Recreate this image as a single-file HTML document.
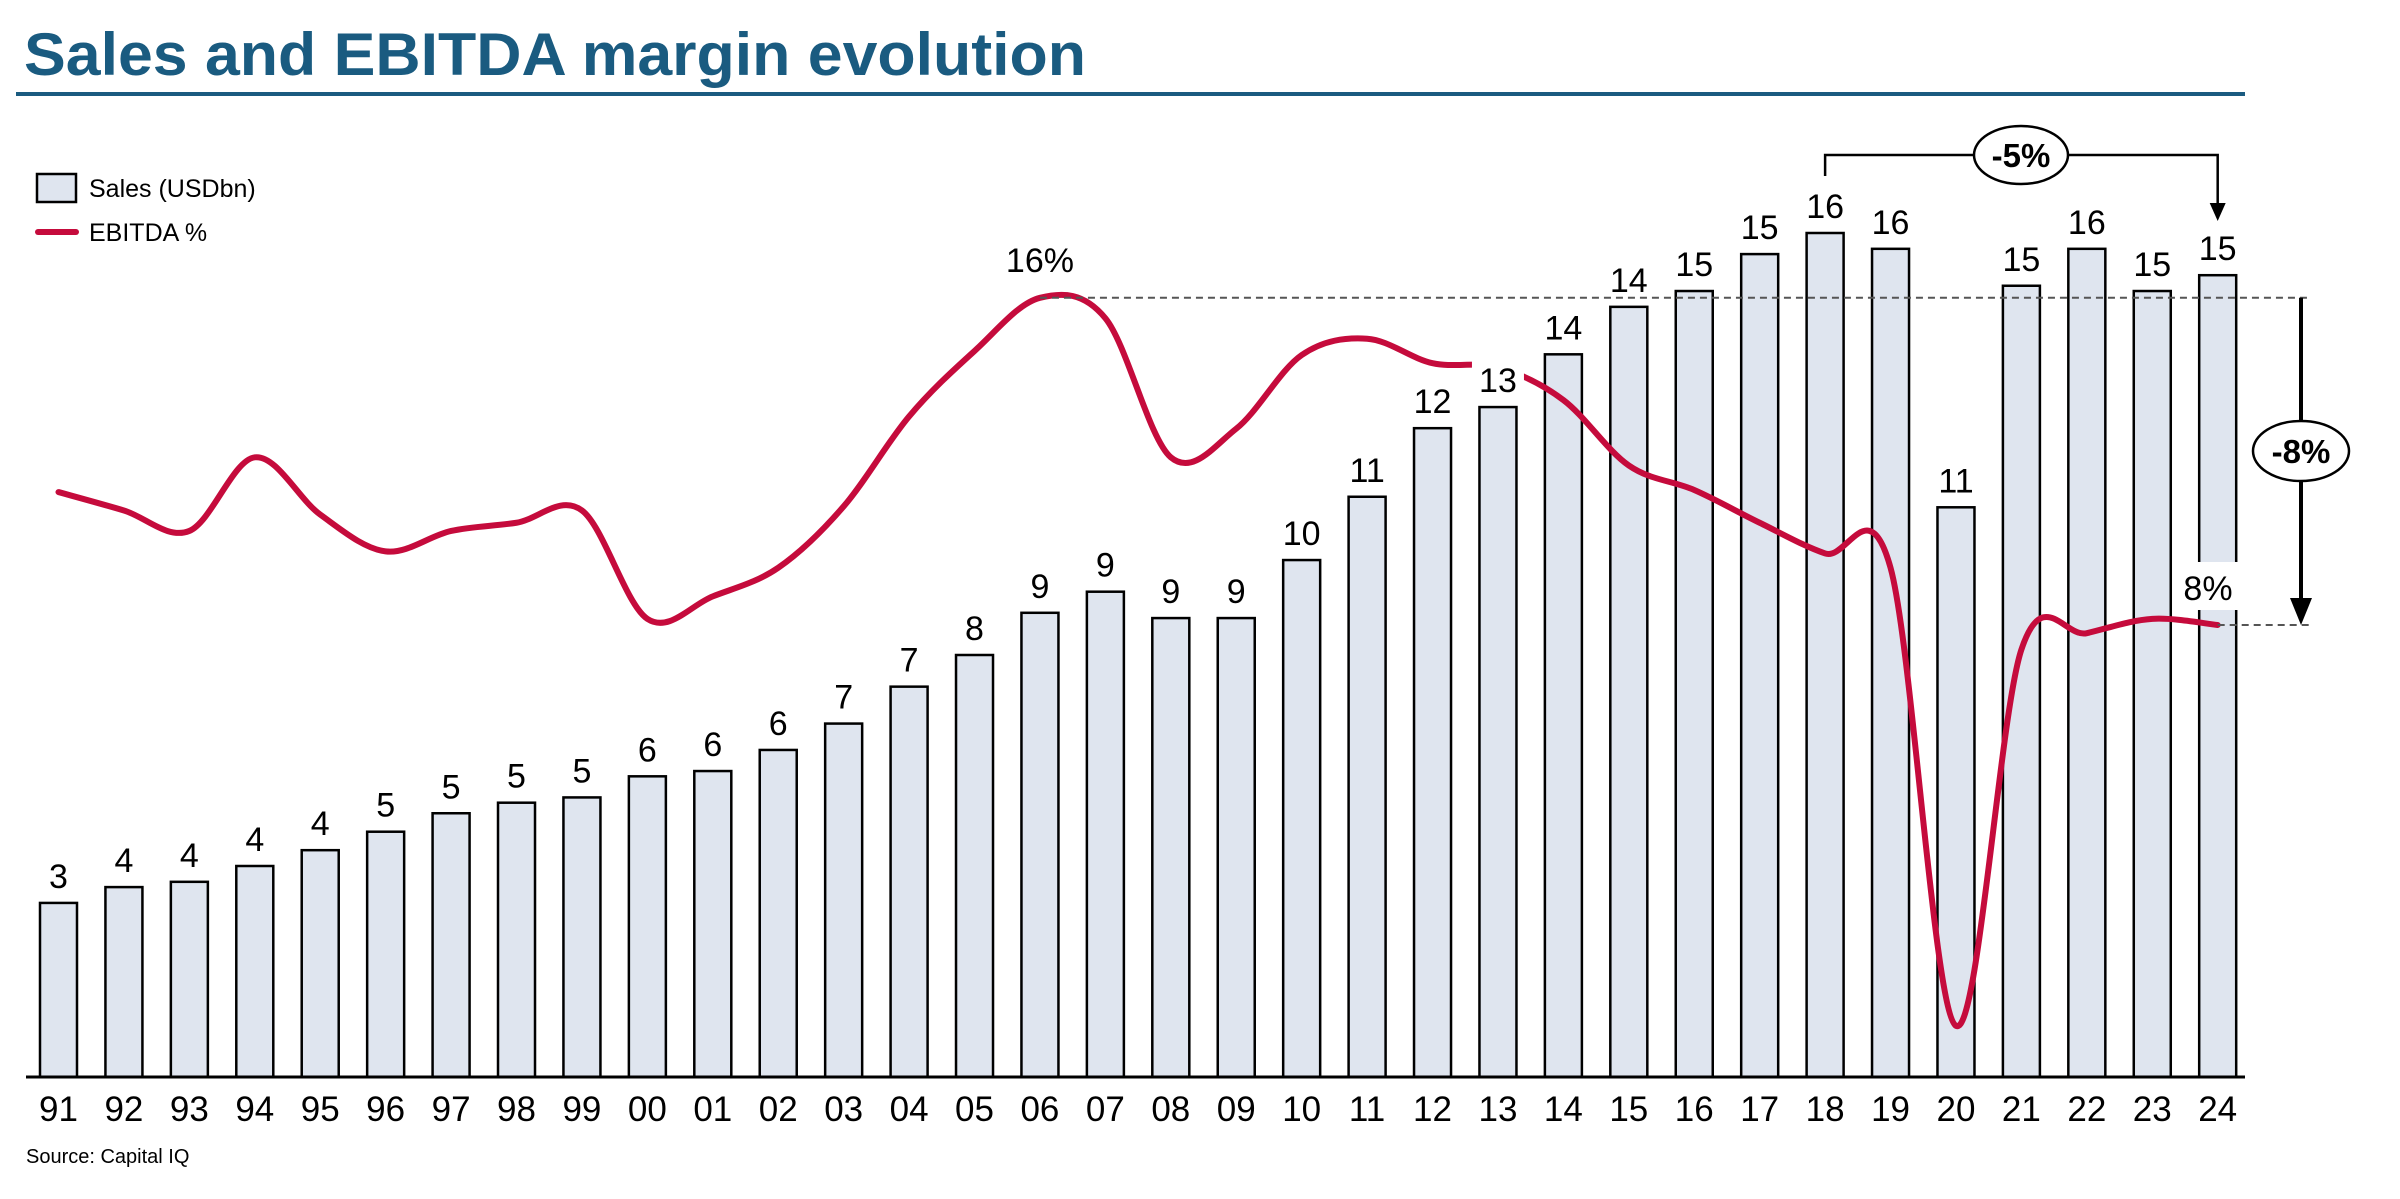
<!DOCTYPE html>
<html><head><meta charset="utf-8"><style>
html,body{margin:0;padding:0;background:#fff;}
svg{display:block;font-family:"Liberation Sans",sans-serif;}
</style></head><body>
<svg id="chart" width="2400" height="1199" viewBox="0 0 2400 1199" xmlns="http://www.w3.org/2000/svg">
<text x="24" y="75" font-size="60" font-weight="bold" fill="#1a5b80" textLength="1062" lengthAdjust="spacingAndGlyphs">Sales and EBITDA margin evolution</text>
<rect x="16" y="92" width="2229" height="4" fill="#1a5b80"/>
<g>
<rect x="37" y="174" width="39" height="28" fill="#dfe5ef" stroke="#000" stroke-width="2.5"/>
<text x="89" y="197" font-size="25">Sales (USDbn)</text>
<line x1="38" y1="232" x2="76" y2="232" stroke="#c50b3c" stroke-width="6" stroke-linecap="round"/>
<text x="89" y="241" font-size="25">EBITDA %</text>
</g>
<g id="bars"></g>
<g id="labels"></g>
<g id="line"></g>
<g id="annot"></g>
<line x1="26" y1="1077" x2="2245" y2="1077" stroke="#000" stroke-width="3"/>
<g id="ticks"></g>
<text x="26" y="1163" font-size="20">Source: Capital IQ</text>
</svg>
<script>
const years = ["91","92","93","94","95","96","97","98","99","00","01","02","03","04","05","06","07","08","09","10","11","12","13","14","15","16","17","18","19","20","21","22","23","24"];
const sales = [3.3,3.6,3.7,4.0,4.3,4.65,5.0,5.2,5.3,5.7,5.8,6.2,6.7,7.4,8.0,8.8,9.2,8.7,8.7,9.8,11.0,12.3,12.7,13.7,14.6,14.9,15.6,16.0,15.7,10.8,15.0,15.7,14.9,15.2];
const salesLabels = ["3","4","4","4","4","5","5","5","5","6","6","6","7","7","8","9","9","9","9","10","11","12","13","14","14","15","15","16","16","11","15","16","15","15"];
const ebitda = [11.25,10.8,10.3,12.1,10.7,9.8,10.3,10.5,10.8,8.15,8.7,9.4,10.9,13.1,14.7,16.0,15.5,12.1,12.8,14.6,15.0,14.4,14.3,13.5,11.9,11.3,10.5,9.75,9.4,-1.8,7.4,7.8,8.15,8.0];

const NS="http://www.w3.org/2000/svg";
const base=1077, step=65.43, x0=58.5, bw=37;
const xs=i=>x0+i*step;
const ys=v=>base-v*52.75;
const yp=p=>625-(p-8)*40.9;
function mk(tag,attrs,parent,txt){const e=document.createElementNS(NS,tag);for(const k in attrs)e.setAttribute(k,attrs[k]);if(txt!==undefined)e.textContent=txt;document.getElementById(parent).appendChild(e);return e;}

years.forEach((y,i)=>{
  const r=mk('rect',{x:xs(i)-bw/2,y:ys(sales[i]),width:bw,height:base-ys(sales[i]),fill:'#dfe5ef',stroke:'#000','stroke-width':2.5},'bars');
  
  
  const t=mk('text',{x:xs(i),y:ys(sales[i])-15,'font-size':34,'text-anchor':'middle'},'labels',salesLabels[i]);
  
  
  const k=mk('text',{x:xs(i),y:1121,'font-size':35,'text-anchor':'middle'},'ticks',y);
  
  
});

const pts=ebitda.map((p,i)=>[xs(i),yp(p)]);
let d='M'+pts[0][0]+','+pts[0][1];
for(let i=0;i<pts.length-1;i++){
  const p0=pts[Math.max(i-1,0)],p1=pts[i],p2=pts[i+1],p3=pts[Math.min(i+2,pts.length-1)];
  const t=6;
  d+=' C'+(p1[0]+(p2[0]-p0[0])/t)+','+(p1[1]+(p2[1]-p0[1])/t)+' '+(p2[0]-(p3[0]-p1[0])/t)+','+(p2[1]-(p3[1]-p1[1])/t)+' '+p2[0]+','+p2[1];
}
const ln=mk('path',{d:d,fill:'none',stroke:'#c50b3c','stroke-width':6,'stroke-linecap':'round'},'line');



const i13=22;
const bg=mk('rect',{x:xs(i13)-26,y:ys(sales[i13])-52,width:52,height:44,fill:'#fff'},'line');


const l13=mk('text',{x:xs(i13),y:ys(sales[i13])-15,'font-size':34,'text-anchor':'middle'},'line',salesLabels[i13]);



const A='annot';
const last=ebitda.length-1;
const peakIdx=15;
let e;
e=mk('line',{x1:xs(peakIdx),y1:yp(ebitda[peakIdx]),x2:2311,y2:yp(ebitda[peakIdx]),stroke:'#555','stroke-width':2,'stroke-dasharray':'7,5'},A);


e=mk('line',{x1:xs(last),y1:625,x2:2311,y2:625,stroke:'#555','stroke-width':2,'stroke-dasharray':'7,5'},A);


e=mk('text',{x:xs(peakIdx),y:272,'font-size':34,'text-anchor':'middle'},A,'16%');


e=mk('rect',{x:2178,y:562,width:62,height:48,fill:'#fff'},A);


e=mk('text',{x:2208,y:600,'font-size':34,'text-anchor':'middle'},A,'8%');


e=mk('line',{x1:2301,y1:yp(ebitda[peakIdx]),x2:2301,y2:600,stroke:'#000','stroke-width':4},A);


e=mk('polygon',{points:'2290,598 2312,598 2301,625'},A);


e=mk('ellipse',{cx:2301,cy:451,rx:48,ry:30,fill:'#fff',stroke:'#000','stroke-width':2.5},A);


e=mk('text',{x:2301,y:463,'font-size':33,'font-weight':'bold','text-anchor':'middle'},A,'-8%');


e=mk('polyline',{points:(xs(27))+',176 '+xs(27)+',155 '+xs(last)+',155 '+xs(last)+',205',fill:'none',stroke:'#000','stroke-width':2.5},A);


e=mk('polygon',{points:(xs(last)-8)+',203 '+(xs(last)+8)+',203 '+xs(last)+',221'},A);


e=mk('ellipse',{cx:2021,cy:155,rx:47,ry:29,fill:'#fff',stroke:'#000','stroke-width':2.5},A);


e=mk('text',{x:2021,y:167,'font-size':33,'font-weight':'bold','text-anchor':'middle'},A,'-5%');


</script>
</body></html>
